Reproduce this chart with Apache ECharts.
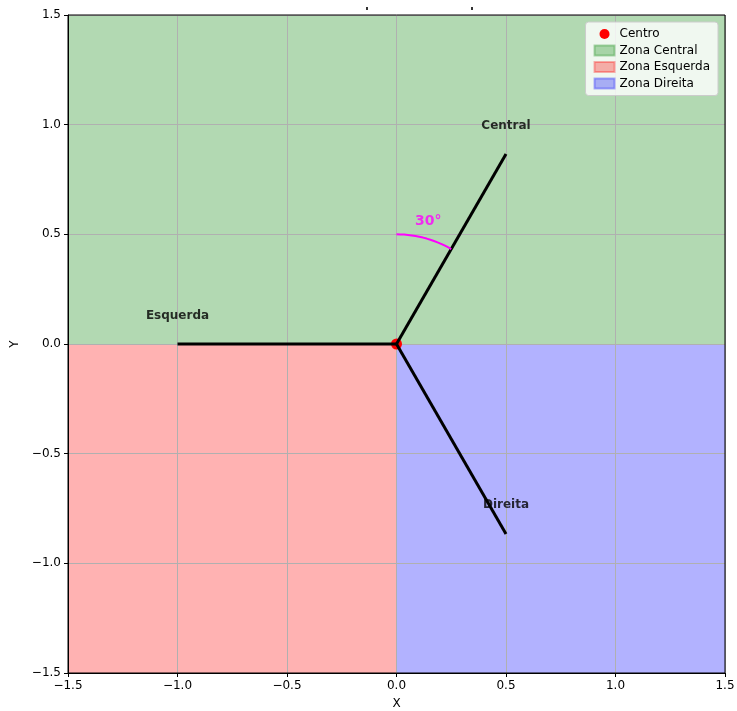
<!DOCTYPE html>
<html>
<head>
<meta charset="utf-8">
<script src="https://cdn.jsdelivr.net/npm/echarts@6/dist/echarts.min.js"></script>
<style>html,body{margin:0;padding:0;background:#fff}#c{width:737px;height:711px}</style>
</head>
<body>
<div id="c"></div>
<script>
// Axis ticks
const axisMin = -1.5, axisMax = 1.5, axisStep = 0.5;
// Zones (rectangles)
const zoneNames = ['Zona Central', 'Zona Esquerda', 'Zona Direita'];
const zoneX0 = [-1.5, -1.5, 0.0];
const zoneX1 = [1.5, 0.0, 1.5];
const zoneY0 = [0.0, -1.5, -1.5];
const zoneY1 = [1.5, 0.0, 0.0];
const zoneColors = ['rgba(0,128,0,0.3)', 'rgba(255,0,0,0.3)', 'rgba(0,0,255,0.3)'];
// Rays from center
const centerX = [0.0], centerY = [0.0];
const rayNames = ['Central', 'Esquerda', 'Direita'];
const rayEndX = [0.5, -1.0, 0.5];
const rayEndY = [0.866, 0.0, -0.866];
const rayLabelX = [0.5, -1.0, 0.5];
const rayLabelY = [0.995, 0.13, -0.735];
// Angle arc
const arcRadius = 0.5, arcStartDeg = 90, arcEndDeg = 60;
const angleLabel = ['30°'];
const angleLabelX = [0.145], angleLabelY = [0.56];

const fmt = v => (v < 0 ? '\u2212' : '') + Math.abs(v).toFixed(1);

const series = [];
zoneNames.forEach((n, i) => {
  series.push({
    name: n, type: 'custom', z: 0,
    itemStyle: { color: zoneColors[i], borderColor: zoneColors[i], borderWidth: 1 },
    data: [[zoneX0[i], zoneY0[i], zoneX1[i], zoneY1[i]]],
    renderItem: (params, api) => {
      const p0 = api.coord([api.value(0), api.value(3)]);
      const p1 = api.coord([api.value(2), api.value(1)]);
      return { type: 'rect', shape: { x: p0[0], y: p0[1], width: p1[0] - p0[0], height: p1[1] - p0[1] },
        style: { fill: zoneColors[i] } };
    }
  });
});
series.push({
  name: 'Centro', type: 'scatter', z: 3, symbol: 'circle', symbolSize: 11,
  itemStyle: { color: '#ff0000', opacity: 1 },
  data: centerX.map((x, i) => [x, centerY[i]])
});
rayNames.forEach((n, i) => {
  series.push({
    name: 'ray_' + n, type: 'line', z: 4, symbol: 'none',
    lineStyle: { color: '#000', width: 3 },
    data: [[centerX[0], centerY[0]], [rayEndX[i], rayEndY[i]]]
  });
});
// arc
const arcPts = [];
for (let k = 0; k <= 30; k++) {
  const a = (arcStartDeg + (arcEndDeg - arcStartDeg) * k / 30) * Math.PI / 180;
  arcPts.push([centerX[0] + arcRadius * Math.cos(a), centerY[0] + arcRadius * Math.sin(a)]);
}
series.push({
  name: 'arc', type: 'line', z: 4, symbol: 'none', smooth: false,
  lineStyle: { color: '#ff00ff', width: 2 }, data: arcPts
});
// labels
series.push({
  name: 'labels', type: 'scatter', z: 5, symbolSize: 0,
  data: rayNames.map((n, i) => ({ value: [rayLabelX[i], rayLabelY[i]], name: n })),
  label: { show: true, position: 'inside', formatter: p => p.name, color: '#000', fontWeight: 'bold',
    fontSize: 12, fontFamily: 'DejaVu Sans' }
});
series.push({
  name: 'angle', type: 'scatter', z: 5, symbolSize: 0,
  data: angleLabel.map((n, i) => ({ value: [angleLabelX[i], angleLabelY[i]], name: n })),
  label: { show: true, position: 'inside', formatter: p => p.name, color: '#ff00ff', fontWeight: 'bold',
    fontSize: 14, fontFamily: 'DejaVu Sans' }
});

const axisCommon = {
  type: 'value', min: axisMin, max: axisMax, interval: axisStep, z: 1,
  axisLine: { show: true, onZero: false, lineStyle: { color: '#000', width: 1 } },
  axisTick: { show: true, length: 4, lineStyle: { color: '#000' } },
  axisLabel: { formatter: fmt, color: '#000', fontSize: 12, fontFamily: 'DejaVu Sans', margin: 7 },
  splitLine: { show: true, lineStyle: { color: '#b0b0b0', width: 1 } },
  nameLocation: 'middle',
  nameTextStyle: { color: '#000', fontSize: 12, fontFamily: 'DejaVu Sans' }
};

const chart = echarts.init(document.getElementById('c'), null, { renderer: 'canvas' });
chart.setOption({
  animation: false,
  backgroundColor: '#fff',
  grid: { left: 68, right: 12, top: 15, bottom: 38, show: true, borderColor: '#000', borderWidth: 1,
    backgroundColor: 'transparent', z: 10, containLabel: false, outerBoundsMode: 'none' },
  xAxis: Object.assign({}, axisCommon, { name: 'X', nameGap: 25 }),
  yAxis: Object.assign({}, axisCommon, { name: 'Y', nameGap: 45 }),
  legend: {
    orient: 'vertical', right: 19, top: 22, padding: [6, 8, 6, 8], itemGap: 4.5,
    backgroundColor: 'rgba(255,255,255,0.8)', borderColor: '#cccccc', borderWidth: 1, borderRadius: 3,
    itemWidth: 20, itemHeight: 10,
    textStyle: { color: '#000', fontSize: 12, fontFamily: 'DejaVu Sans' },
    data: [
      { name: 'Centro', icon: 'circle' },
      { name: 'Zona Central', icon: 'rect' },
      { name: 'Zona Esquerda', icon: 'rect' },
      { name: 'Zona Direita', icon: 'rect' }
    ]
  },
  graphic: [
    { type: 'rect', shape: { x: 366, y: 7, width: 2, height: 3 }, style: { fill: '#333' } },
    { type: 'rect', shape: { x: 471, y: 7, width: 2, height: 3 }, style: { fill: '#333' } }
  ],
  series: series
});
</script>
</body>
</html>
